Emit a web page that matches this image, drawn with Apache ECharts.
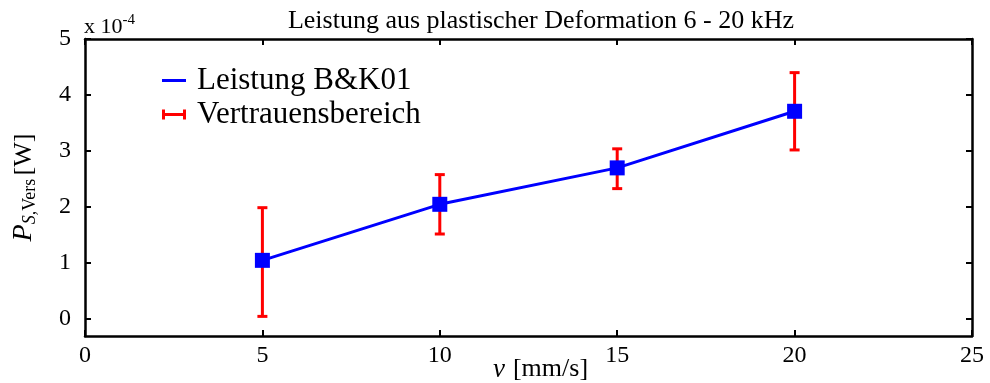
<!DOCTYPE html>
<html><head><meta charset="utf-8">
<script src="https://cdn.jsdelivr.net/npm/echarts@6/dist/echarts.min.js"></script>
<style>html,body{margin:0;padding:0;background:#fff}#c{width:990px;height:383px}</style>
</head><body><div id="c"></div>
<script>
const xValues = [5, 10, 15, 20];
const power = [1.05, 2.05, 2.70, 3.71];      // x 1e-4 W
const errLow = [0.05, 1.52, 2.33, 3.02];
const errHigh = [1.99, 2.58, 3.04, 4.40];
const yTicks = [0, 1, 2, 3, 4, 5];

const F = 'Liberation Serif';
const chart = echarts.init(document.getElementById('c'));
const lineData = xValues.map((x, i) => [x, power[i]]);
const errData = xValues.map((x, i) => [x, errLow[i], errHigh[i]]);

chart.setOption({
  backgroundColor: '#fff',
  animation: false,
  title: {
    text: 'Leistung aus plastischer Deformation 6 - 20 kHz',
    left: 536, textAlign: 'center', top: 3,
    textStyle: {fontFamily: F, fontSize: 26, fontWeight: 'normal', color: '#000'}
  },
  graphic: [{
    type: 'text', left: 84, top: 13,
    style: {
      text: '{a|x 10}{s|-4}', fill: '#000',
      rich: {a: {fontFamily: F, fontSize: 22, fill: '#000'}, s: {fontFamily: F, fontSize: 15, fill: '#000', verticalAlign: 'top', padding: [0,0,14,0]}}
    }
  }],
  legend: {
    orient: 'vertical', left: 157, top: 60, itemGap: 3,
    textStyle: {fontFamily: F, fontSize: 31, color: '#000', padding: [0,0,0,6]},
    data: [
      {name: 'Leistung B&K01', icon: 'path://M0,0h24v3h-24z', itemStyle: {color: '#0000ff'}},
      {name: 'Vertrauensbereich', icon: 'path://M0,0h3v10h-3z M3,3.5h18v3h-18z M21,0h3v10h-3z', itemStyle: {color: '#ff0000'}}
    ],
    itemWidth: 24, itemHeight: 10
  },
  grid: {left: 85, right: 18, top: 39, bottom: 47, outerBoundsMode: 'none', containLabel: false},
  xAxis: [{
    type: 'value', min: 0, max: 25, interval: 5,
    name: '{i|v}{n|[mm/s]}', nameLocation: 'middle', nameGap: 20, nameMoveOverlap: false,
    nameTextStyle: {padding: [0, 0, 0, 24], rich: {i: {fontFamily: F, fontStyle: 'italic', fontSize: 27, color: '#000', padding: [0, 8, 0, 0]}, n: {fontFamily: F, fontSize: 26, color: '#000'}}},
    axisLine: {show: true, onZero: false, lineStyle: {color: '#000', width: 2.5}},
    axisTick: {show: true, inside: true, length: 6, lineStyle: {color: '#000', width: 2}},
    axisLabel: {fontFamily: F, fontSize: 24, color: '#000', margin: 8},
    splitLine: {show: false}
  }, {
    type: 'value', min: 0, max: 25, interval: 5, position: 'top',
    axisLine: {show: true, onZero: false, lineStyle: {color: '#000', width: 2.5}},
    axisTick: {show: true, inside: true, length: 6, lineStyle: {color: '#000', width: 2}},
    axisLabel: {show: false}, splitLine: {show: false}
  }],
  yAxis: [{
    type: 'value', min: -0.3, max: 5,
    name: '{p|P}{s|S,}{v|Vers} {n|[W]}', nameLocation: 'middle', nameGap: 46, nameRotate: 90, nameMoveOverlap: false,
    nameTextStyle: {rich: {
      p: {fontFamily: F, fontStyle: 'italic', fontSize: 28, color: '#000'},
      s: {fontFamily: F, fontStyle: 'italic', fontSize: 18, color: '#000', verticalAlign: 'bottom', padding: [12,0,0,0]},
      v: {fontFamily: F, fontSize: 18, color: '#000', verticalAlign: 'bottom', padding: [12,0,0,0]},
      n: {fontFamily: F, fontSize: 26, color: '#000'}
    }},
    axisLine: {show: true, onZero: false, lineStyle: {color: '#000', width: 2.5}},
    axisTick: {show: true, inside: true, length: 6, customValues: yTicks, lineStyle: {color: '#000', width: 2}},
    axisLabel: {fontFamily: F, fontSize: 24, color: '#000', margin: 14, customValues: yTicks},
    splitLine: {show: false}
  }, {
    type: 'value', min: -0.3, max: 5, position: 'right',
    axisLine: {show: true, onZero: false, lineStyle: {color: '#000', width: 2.5}},
    axisTick: {show: true, inside: true, length: 6, customValues: yTicks, lineStyle: {color: '#000', width: 2}},
    axisLabel: {show: false}, splitLine: {show: false}
  }],
  series: [{
    name: 'Vertrauensbereich', type: 'custom', xAxisIndex: 0, yAxisIndex: 0,
    itemStyle: {color: '#ff0000'},
    encode: {x: 0, y: [1, 2]},
    data: errData,
    renderItem: function (params, api) {
      const x = api.value(0);
      const lo = api.coord([x, api.value(1)]);
      const hi = api.coord([x, api.value(2)]);
      const w = 5;
      const st = {stroke: '#ff0000', lineWidth: 3};
      return {type: 'group', children: [
        {type: 'line', shape: {x1: lo[0], y1: lo[1], x2: hi[0], y2: hi[1]}, style: st},
        {type: 'line', shape: {x1: lo[0]-w, y1: lo[1], x2: lo[0]+w, y2: lo[1]}, style: st},
        {type: 'line', shape: {x1: hi[0]-w, y1: hi[1], x2: hi[0]+w, y2: hi[1]}, style: st}
      ]};
    },
    z: 2
  }, {
    name: 'Leistung B&K01', type: 'line', xAxisIndex: 0, yAxisIndex: 0,
    data: lineData,
    symbol: 'rect', symbolSize: 15,
    lineStyle: {color: '#0000ff', width: 3},
    itemStyle: {color: '#0000ff'},
    z: 3
  }]
});
</script></body></html>
